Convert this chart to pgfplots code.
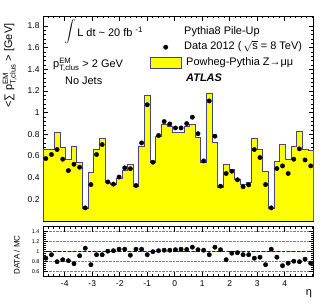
\documentclass[border=0pt]{standalone}
\usepackage{fontspec}
\setmainfont{Liberation Sans}
\usepackage{amsmath}
\usepackage{pgfplots}
\pgfplotsset{compat=1.18}
\usepackage{pgfplotstable}

\definecolor{histline}{RGB}{70,70,130}
\definecolor{ryellow}{RGB}{255,255,0}

\pgfplotstableread{
edge mc
-4.790 0.662
-4.585 0.662
-4.380 0.821
-4.175 0.677
-3.970 0.565
-3.765 0.692
-3.560 0.545
-3.355 0.115
-3.150 0.453
-2.945 0.662
-2.740 0.766
-2.535 0.360
-2.330 0.340
-2.125 0.390
-1.920 0.468
-1.715 0.521
-1.510 0.318
-1.305 0.692
-1.100 1.157
-0.895 0.545
-0.690 0.785
-0.485 0.889
-0.280 0.874
-0.075 0.821
0.130 0.821
0.335 0.874
0.540 0.889
0.745 0.775
0.950 0.545
1.155 1.181
1.360 0.729
1.565 0.310
1.770 0.521
1.975 0.475
2.180 0.385
2.385 0.336
2.590 0.355
2.795 0.766
3.000 0.662
3.205 0.459
3.410 0.115
3.615 0.548
3.820 0.705
4.025 0.567
4.230 0.692
4.435 0.830
4.640 0.662
4.845 0.652
5.050 0.652
}\histtab

\pgfplotstableread{
x data ratio
-4.6875 0.576 0.87
-4.4825 0.613 0.94
-4.2775 0.659 0.80
-4.0725 0.570 0.84
-3.8675 0.465 0.82
-3.6625 0.523 0.76
-3.4575 0.496 0.92
-3.2525 0.121 1.07
-3.0475 0.336 0.74
-2.8425 0.613 0.94
-2.6375 0.705 0.94
-2.4325 0.360 1.01
-2.2275 0.340 1.02
-2.0225 0.405 1.05
-1.8175 0.490 1.05
-1.6125 0.482 0.93
-1.4075 0.327 1.05
-1.2025 0.720 1.05
-0.9975 1.072 0.94
-0.7925 0.542 1.00
-0.5875 0.788 1.02
-0.3825 0.917 1.03
-0.1775 0.895 1.03
0.0275 0.858 1.04
0.2325 0.858 1.05
0.4375 0.898 1.045
0.6425 0.957 1.09
0.8475 0.805 1.04
1.0525 0.554 1.03
1.2575 1.107 0.94
1.4625 0.782 1.09
1.6675 0.321 1.04
1.8725 0.438 0.84
2.0775 0.459 0.97
2.2825 0.380 0.98
2.4875 0.316 0.94
2.6925 0.333 0.94
2.8975 0.659 0.87
3.1025 0.585 0.89
3.3075 0.336 0.74
3.5125 0.121 1.05
3.7175 0.484 0.89
3.9225 0.508 0.72
4.1275 0.438 0.77
4.3325 0.570 0.81
4.5375 0.665 0.80
4.7425 0.563 0.85
4.9475 0.508 0.77
}\datatab

\begin{document}
\begin{tikzpicture}[x=1bp,y=1bp]
\path[use as bounding box] (0,0) rectangle (329,305);
\begin{axis}[
  at={(43bp,84bp)}, anchor=south west, scale only axis,
  width=270.5bp, height=205bp,
  xmin=-4.79, xmax=5.05, ymin=0, ymax=1.89,
  xtick={-4,-3,-2,-1,0,1,2,3,4}, xticklabels={},
  minor xtick={-4.6,-4.4,-4.2,-3.8,-3.6,-3.4,-3.2,-2.8,-2.6,-2.4,-2.2,-1.8,-1.6,-1.4,-1.2,-0.8,-0.6,-0.4,-0.2,0.2,0.4,0.6,0.8,1.2,1.4,1.6,1.8,2.2,2.4,2.6,2.8,3.2,3.4,3.6,3.8,4.2,4.4,4.6,4.8,5.0},
  ytick={0,0.2,0.4,0.6,0.8,1,1.2,1.4,1.6,1.8},
  yticklabels={,0.2,0.4,0.6,0.8,1,1.2,1.4,1.6,1.8},
  minor y tick num=4,
  tick pos=both, tick align=inside,
  major tick length=5bp, minor tick length=2.5bp,
  tick style={black, line width=0.5bp},
  axis line style={line width=0.6bp},
  /pgf/number format/assume math mode=true,
  yticklabel style={font=\fontsize{8.5}{9}\selectfont},
  ylabel={<∑ $\text{p}^{\text{EM}}_{\text{T,clus}}$ > [GeV]},
  ylabel style={font=\fontsize{11}{12}\selectfont, at={(rel axis cs:-0.085,0.98)}, anchor=south east},
  legend style={at={(rel axis cs:0.3956,0.951)}, anchor=north west, draw=none, fill=none, inner sep=0pt,
    font=\fontsize{11}{12}\selectfont, row sep=5.2bp, column sep=3bp,
    nodes={inner sep=0pt, text height=8bp, text depth=2.5bp}},
  legend cell align=left,
]
\addplot[const plot, fill=ryellow, draw=histline, line width=0.7bp, forget plot]
  table[x=edge, y=mc]{\histtab} \closedcycle;
\addplot[only marks, mark=*, mark size=2.2bp, black, forget plot]
  table[x=x, y=data]{\datatab};
\addlegendimage{empty legend}
\addlegendentry{Pythia8 Pile-Up}
\addlegendimage{legend image code/.code={\path[draw=none, fill=none] (0bp,-0.1bp) rectangle (31bp,0.1bp); \fill[black] (15.5bp,0bp) circle (2.2bp);}}
\addlegendentry{Data 2012 (\,$\sqrt{\text{s}}$ = 8 TeV)}
\addlegendimage{legend image code/.code={\path[draw=none, fill=none] (0bp,-0.1bp) rectangle (31bp,0.1bp); \draw[overlay, fill=ryellow, draw=histline, line width=0.7bp] (0bp,-5.5bp) rectangle (31bp,5.5bp);}}
\addlegendentry{\hspace{2bp}Powheg-Pythia Z→μμ}
\addlegendimage{empty legend}
\addlegendentry{\hspace{2bp}\textbf{\textit{ATLAS}}}
\node[anchor=center, inner sep=0pt, font=\fontsize{11}{12}\selectfont] at (rel axis cs:0.0998,0.922) {$\displaystyle\int$};
\node[anchor=base west, inner sep=0pt, font=\fontsize{11}{12}\selectfont] at (rel axis cs:0.126,0.898) {L dt \textasciitilde{} 20 fb\hspace{3bp}\raisebox{4bp}{\fontsize{8}{9}\selectfont -1}};
\node[anchor=base west, inner sep=0pt, font=\fontsize{11}{12}\selectfont] at (rel axis cs:0.037,0.751) {$\text{p}^{\text{EM}}_{\text{T,clus}}$ > 2 GeV};
\node[anchor=base west, inner sep=0pt, font=\fontsize{11}{12}\selectfont] at (rel axis cs:0.081,0.668) {No Jets};
\end{axis}

\begin{axis}[
  at={(43bp,28.3bp)}, anchor=south west, scale only axis,
  width=270.5bp, height=50bp,
  xmin=-4.79, xmax=5.05, ymin=0.5, ymax=1.5,
  xtick={-4,-3,-2,-1,0,1,2,3,4},
  minor xtick={-4.6,-4.4,-4.2,-3.8,-3.6,-3.4,-3.2,-2.8,-2.6,-2.4,-2.2,-1.8,-1.6,-1.4,-1.2,-0.8,-0.6,-0.4,-0.2,0.2,0.4,0.6,0.8,1.2,1.4,1.6,1.8,2.2,2.4,2.6,2.8,3.2,3.4,3.6,3.8,4.2,4.4,4.6,4.8,5.0},
  ytick={0.6,0.8,1,1.2,1.4},
  minor y tick num=4,
  tick pos=both, tick align=inside,
  major tick length=5bp, minor tick length=2.5bp,
  tick style={black, line width=0.5bp},
  axis line style={line width=0.6bp},
  ymajorgrids=true, major grid style={densely dotted, gray, line width=0.4bp},
  /pgf/number format/assume math mode=true,
  xticklabel style={font=\fontsize{8.5}{9}\selectfont},
  yticklabel style={font=\fontsize{5.5}{6}\selectfont},
  ylabel={DATA / MC},
  ylabel style={font=\fontsize{8}{9}\selectfont, at={(rel axis cs:-0.097,0.434)}, anchor=center},
  xlabel={η},
  xlabel style={font=\fontsize{11}{12}\selectfont, at={(rel axis cs:0.983,-0.346)}, anchor=center},
]
\addplot[blue, densely dashed, line width=0.6bp] coordinates {(-4.79,1) (5.05,1)};
\addplot[only marks, mark=*, mark size=2.2bp, black]
  table[x=x, y=ratio]{\datatab};
\end{axis}
\end{tikzpicture}
\end{document}
